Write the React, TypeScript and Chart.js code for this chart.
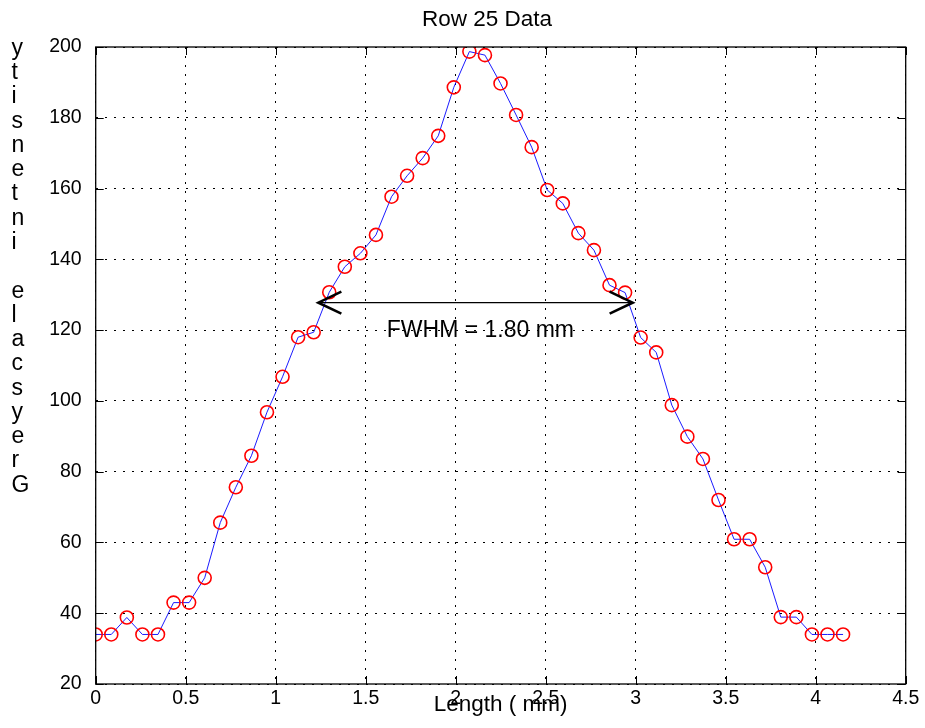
import React, { useEffect, useRef } from "react";
import { Chart, registerables } from "chart.js";

Chart.register(...registerables);

// ---- data ----
const lengthMm = [
  0, 0.0865, 0.173, 0.2595, 0.346, 0.4325, 0.519, 0.6055, 0.692, 0.7785, 0.865, 0.9515,
  1.038, 1.1245, 1.211, 1.2975, 1.384, 1.4705, 1.557, 1.6435, 1.73, 1.8165, 1.903, 1.9895,
  2.076, 2.1625, 2.249, 2.3355, 2.422, 2.5085, 2.595, 2.6815, 2.768, 2.8545, 2.941, 3.0275,
  3.114, 3.2005, 3.287, 3.3735, 3.46, 3.5465, 3.633, 3.7195, 3.806, 3.8925, 3.979, 4.0655, 4.152,
];
const intensity = [
  34, 34, 38.8, 34, 34, 43, 43, 50, 65.6, 75.6, 84.5, 96.8, 106.8, 118, 119.4, 130.7, 137.9,
  141.7, 146.9, 157.7, 163.6, 168.6, 174.9, 188.6, 198.7, 197.7, 189.7, 180.8, 171.7, 159.6,
  155.8, 147.4, 142.6, 132.7, 130.6, 117.9, 113.7, 98.8, 89.9, 83.6, 72, 60.9, 60.9, 53, 38.9,
  38.9, 34, 34, 34,
];
const xTicks = [0, 0.5, 1, 1.5, 2, 2.5, 3, 3.5, 4, 4.5];
const yTicks = [20, 40, 60, 80, 100, 120, 140, 160, 180, 200];
const titleText = "Row 25 Data";
const xLabelText = "Length ( mm)";
const yLabelText = "ytisnetni elacsyerG";
const fwhmFrom = 1.237;
const fwhmTo = 2.983;
const fwhmLevel = 127.75;
const fwhmText = "FWHM = 1.80 mm";
const fwhmTextX = 1.617;
const fwhmTextY = 118.1;

const FONT = "'Liberation Sans', Arial, Helvetica, sans-serif";

const decorPlugin = {
  id: "matlabDecor",
  afterDraw(chart: any) {
    const { ctx, chartArea: a, scales } = chart;
    const xs = scales.x;
    const ys = scales.y;
    ctx.save();
    ctx.strokeStyle = "#000";
    ctx.lineWidth = 1;
    ctx.beginPath();
    xTicks.forEach((v) => {
      const px = Math.round(xs.getPixelForValue(v)) + 0.5;
      ctx.moveTo(px, a.bottom);
      ctx.lineTo(px, a.bottom - 8);
      ctx.moveTo(px, a.top);
      ctx.lineTo(px, a.top + 8);
    });
    yTicks.forEach((v) => {
      const py = Math.round(ys.getPixelForValue(v)) + 0.5;
      ctx.moveTo(a.left, py);
      ctx.lineTo(a.left + 8, py);
      ctx.moveTo(a.right, py);
      ctx.lineTo(a.right - 8, py);
    });
    ctx.stroke();

    // box
    ctx.lineWidth = 1.3;
    ctx.strokeRect(a.left, a.top, a.right - a.left, a.bottom - a.top);

    // FWHM arrow
    const x1 = xs.getPixelForValue(fwhmFrom);
    const x2 = xs.getPixelForValue(fwhmTo);
    const yA = ys.getPixelForValue(fwhmLevel);
    ctx.lineWidth = 1.2;
    ctx.beginPath();
    ctx.moveTo(x1, yA);
    ctx.lineTo(x2, yA);
    ctx.stroke();
    ctx.lineWidth = 2.6;
    ctx.lineCap = "butt";
    ctx.beginPath();
    ctx.moveTo(x1 + 23, yA - 11);
    ctx.lineTo(x1, yA);
    ctx.lineTo(x1 + 23, yA + 11);
    ctx.moveTo(x2 - 23, yA - 11);
    ctx.lineTo(x2, yA);
    ctx.lineTo(x2 - 23, yA + 11);
    ctx.stroke();

    ctx.fillStyle = "#000";
    ctx.font = `23px ${FONT}`;
    ctx.textBaseline = "alphabetic";
    ctx.textAlign = "left";
    ctx.fillText(fwhmText, xs.getPixelForValue(fwhmTextX), ys.getPixelForValue(fwhmTextY));

    // title
    ctx.font = `22.5px ${FONT}`;
    ctx.textAlign = "left";
    ctx.fillText(titleText, 422, 26);

    // x label
    ctx.textAlign = "center";
    ctx.fillText(xLabelText, (a.left + a.right) / 2, 711);

    // y label (stacked upright characters)
    ctx.font = `23px ${FONT}`;
    ctx.textAlign = "left";
    const chars = yLabelText.split("");
    chars.forEach((c, i) => {
      ctx.fillText(c, 11.5, 54.7 + i * 24.28);
    });
    ctx.restore();
  },
};

export default function App() {
  const canvasRef = useRef<HTMLCanvasElement>(null);

  useEffect(() => {
    document.body.style.margin = "0";
    const canvas = canvasRef.current;
    if (!canvas) return;
    const points = lengthMm.map((x, i) => ({ x, y: intensity[i] }));
    const chart = new Chart(canvas, {
      type: "line",
      data: {
        datasets: [
          {
            data: points,
            borderColor: "#0000ff",
            borderWidth: 0.9,
            pointStyle: "circle",
            pointRadius: 6.5,
            pointBorderColor: "#ff0000",
            pointBackgroundColor: "rgba(0,0,0,0)",
            pointBorderWidth: 1.6,
            tension: 0,
          },
        ],
      },
      options: {
        animation: false,
        responsive: false,
        maintainAspectRatio: false,
        layout: { padding: { top: 47, right: 19.3, left: 0, bottom: 0 } },
        plugins: {
          legend: { display: false },
          tooltip: { enabled: false },
          title: { display: false },
        },
        scales: {
          x: {
            type: "linear",
            min: 0,
            max: 4.5,
            afterFit: (s: any) => {
              s.height = 44;
            },
            afterBuildTicks: (s: any) => {
              s.ticks = xTicks.map((v) => ({ value: v }));
            },
            ticks: {
              color: "#000",
              font: { family: FONT, size: 19.5 },
              padding: 3,
              maxRotation: 0,
              autoSkip: false,
              callback: (v: any) => String(v),
            },
            grid: { color: "#000", lineWidth: 1, drawTicks: false },
            border: { display: false, dash: [2, 7] },
          },
          y: {
            type: "linear",
            min: 20,
            max: 200,
            afterFit: (s: any) => {
              s.width = 95.7;
            },
            afterBuildTicks: (s: any) => {
              s.ticks = yTicks.map((v) => ({ value: v }));
            },
            ticks: {
              color: "#000",
              font: { family: FONT, size: 19.5 },
              padding: 14,
              autoSkip: false,
              callback: (v: any) => String(v),
            },
            grid: { color: "#000", lineWidth: 1, drawTicks: false },
            border: { display: false, dash: [2, 7] },
          },
        },
      },
      plugins: [decorPlugin],
    });
    return () => chart.destroy();
  }, []);

  return (
    <div style={{ position: "absolute", left: 0, top: 0, width: 925, height: 728, background: "#fff" }}>
      <canvas ref={canvasRef} width={925} height={728} style={{ width: 925, height: 728 }} />
    </div>
  );
}
